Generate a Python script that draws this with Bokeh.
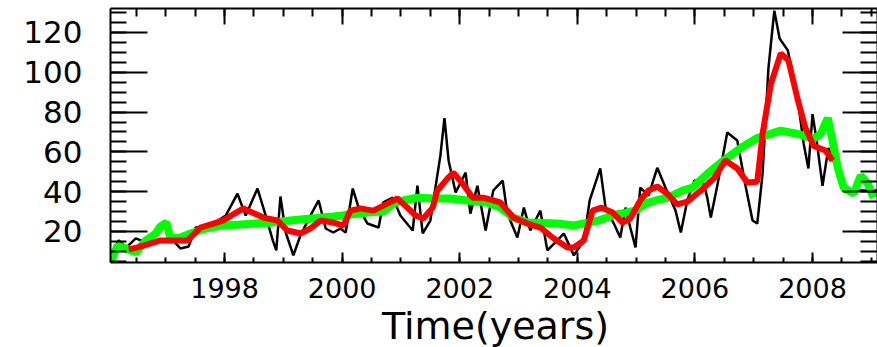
from bokeh.plotting import figure
from bokeh.models import Range1d, LinearAxis, SingleIntervalTicker, CustomJSTickFormatter, Label
from bokeh.embed import file_html
from bokeh.resources import INLINE

# ---- data ----
black_t = [1996.06, 1996.20, 1996.33, 1996.49, 1996.66, 1996.83, 1997.00, 1997.12, 1997.25, 1997.39,
           1997.51, 1997.76, 1998.02, 1998.22, 1998.36, 1998.56, 1998.70, 1998.82, 1998.88, 1998.95,
           1999.04, 1999.17, 1999.29, 1999.46, 1999.60, 1999.72, 1999.85, 1999.97, 2000.06, 2000.18,
           2000.28, 2000.43, 2000.62, 2000.70, 2000.86, 2000.99, 2001.20, 2001.28, 2001.37, 2001.50,
           2001.67, 2001.74, 2001.81, 2001.93, 2002.10, 2002.18, 2002.30, 2002.44, 2002.57, 2002.73,
           2002.81, 2002.98, 2003.09, 2003.20, 2003.37, 2003.49, 2003.66, 2003.77, 2003.94, 2004.11,
           2004.21, 2004.39, 2004.48, 2004.62, 2004.73, 2004.82, 2004.90, 2004.99, 2005.07, 2005.21,
           2005.36, 2005.50, 2005.67, 2005.76, 2005.87, 2005.99, 2006.15, 2006.21, 2006.27, 2006.38,
           2006.55, 2006.72, 2006.86, 2006.98, 2007.06, 2007.15, 2007.25, 2007.35, 2007.44, 2007.58,
           2007.75, 2007.85, 2007.93, 2008.00, 2008.07, 2008.17, 2008.27, 2008.39, 2008.53, 2009.11]
black_v = [8.0, 15.5, 12.0, 16.5, 14.5, 19.5, 23.0, 15.5, 11.5, 12.5,
           22.0, 23.0, 28.0, 39.0, 28.0, 41.6, 28.0, 15.5, 10.5, 37.6,
           19.5, 8.0, 18.0, 28.0, 35.6, 21.5, 19.5, 21.5, 19.5, 41.6,
           32.0, 24.0, 22.0, 34.6, 37.0, 28.0, 20.5, 43.0, 19.0, 25.5,
           58.0, 77.0, 55.7, 39.6, 49.6, 29.0, 43.0, 20.5, 40.6, 45.6,
           29.0, 17.0, 32.0, 20.5, 30.5, 10.5, 15.5, 19.0, 8.0, 15.5,
           35.6, 51.7, 32.0, 24.0, 17.0, 32.0, 22.0, 12.0, 42.0, 38.0,
           52.0, 42.0, 30.5, 19.5, 35.6, 45.6, 44.0, 37.0, 27.0, 43.0,
           69.7, 65.7, 43.0, 25.5, 24.0, 49.0, 102.0, 131.0, 117.0, 111.0,
           86.0, 64.0, 51.7, 79.0, 65.7, 43.0, 62.0, 53.0, 40.6, 40.6]

red_t = [1996.37, 1996.52, 1996.91, 1997.22, 1997.37, 1997.59, 1997.97, 1998.32, 1998.66, 1998.90,
         1999.07, 1999.29, 1999.46, 1999.63, 1999.85, 2000.02, 2000.14, 2000.31, 2000.53, 2000.77,
         2000.94, 2001.11, 2001.25, 2001.38, 2001.54, 2001.62, 2001.79, 2001.89, 2002.05, 2002.22,
         2002.40, 2002.69, 2002.91, 2003.15, 2003.37, 2003.60, 2003.83, 2003.94, 2004.11, 2004.26,
         2004.41, 2004.60, 2004.77, 2004.90, 2005.07, 2005.21, 2005.36, 2005.53, 2005.70, 2005.87,
         2006.10, 2006.32, 2006.52, 2006.72, 2006.89, 2007.06, 2007.15, 2007.29, 2007.46, 2007.59,
         2007.75, 2007.88, 2008.02, 2008.22, 2008.34]
red_v = [11.0, 12.0, 15.5, 15.5, 15.5, 22.0, 25.5, 31.6, 27.0, 25.5,
         20.5, 19.0, 21.5, 25.5, 24.5, 23.0, 30.5, 31.6, 30.5, 34.0,
         36.6, 32.0, 28.0, 26.5, 32.0, 40.6, 46.6, 49.6, 44.0, 37.0,
         37.0, 34.6, 27.0, 24.0, 22.0, 16.5, 12.0, 12.0, 15.5, 30.5,
         32.0, 29.5, 24.5, 26.5, 35.6, 40.6, 42.6, 39.0, 33.6, 35.0,
         40.6, 46.6, 55.7, 51.7, 44.6, 45.0, 69.0, 94.0, 109.5, 106.0,
         86.0, 72.0, 63.0, 60.7, 55.7]

green_t = [1996.06, 1996.18, 1996.32, 1996.49, 1996.66, 1996.83, 1996.91, 1997.01, 1997.08, 1997.25,
           1997.42, 1997.68, 1997.93, 1998.27, 1998.78, 1999.29, 1999.85, 2000.43, 2000.70, 2000.86,
           2001.04, 2001.28, 2001.55, 2001.84, 2002.13, 2002.47, 2002.69, 2002.91, 2003.15, 2003.66,
           2003.94, 2004.36, 2004.65, 2004.99, 2005.16, 2005.33, 2005.55, 2005.79, 2005.96, 2006.21,
           2006.49, 2006.78, 2007.06, 2007.46, 2007.75, 2008.02, 2008.14, 2008.26, 2008.34, 2008.43,
           2008.53, 2008.70, 2008.82, 2008.94, 2009.04]
green_v = [4.4, 13.0, 11.5, 9.5, 15.5, 19.0, 22.5, 24.5, 16.5, 17.0,
           19.0, 21.5, 23.0, 23.5, 24.5, 26.0, 27.5, 29.5, 30.0, 34.0,
           35.6, 37.0, 36.6, 36.6, 35.6, 34.6, 32.0, 27.0, 24.5, 24.0,
           23.0, 25.5, 28.5, 30.5, 34.0, 35.6, 37.0, 40.6, 42.0, 49.0,
           55.7, 62.0, 67.0, 70.7, 69.0, 66.7, 69.0, 77.0, 65.7, 52.0,
           42.0, 39.0, 48.0, 44.0, 37.0]

x_title = "Time(years)"
FONT = "DejaVu Sans"

p = figure(width=877, height=347, output_backend="svg", toolbar_location=None,
           x_range=Range1d(1996.06, 2009.105), y_range=Range1d(4.42, 132.06),
           x_axis_location=None, y_axis_location=None,
           min_border_left=110, min_border_right=0, min_border_top=8, min_border_bottom=85)
p.grid.visible = False
p.outline_line_color = None
p.background_fill_color = "white"
p.border_fill_color = "white"

xt = SingleIntervalTicker(interval=2, num_minor_ticks=4)
yt = SingleIntervalTicker(interval=20, num_minor_ticks=4)
blank = CustomJSTickFormatter(code="return ''")

def style(ax, tin, min_in):
    ax.axis_line_width = 2
    ax.axis_line_color = "black"
    ax.major_tick_in = tin
    ax.major_tick_out = 0
    ax.minor_tick_in = min_in
    ax.minor_tick_out = 0
    ax.major_tick_line_width = 2
    ax.minor_tick_line_width = 2

bottom = LinearAxis(ticker=xt)
style(bottom, 10, 5)
bottom.major_label_text_font = FONT
bottom.major_label_text_font_size = "27px"
bottom.major_label_text_color = "black"
bottom.major_label_standoff = 15
p.add_layout(bottom, "below")

left = LinearAxis(ticker=yt)
style(left, 37, 16)
left.major_label_text_font = FONT
left.major_label_text_font_size = "31px"
left.major_label_text_color = "black"
left.major_label_standoff = 28
p.add_layout(left, "left")

top = LinearAxis(ticker=xt, formatter=blank)
style(top, 16, 8)
top.major_label_standoff = 0
p.add_layout(top, "above")

right = LinearAxis(ticker=yt, formatter=blank)
style(right, 35, 17)
right.major_label_standoff = 0
p.add_layout(right, "right")

p.line(black_t, black_v, line_color="black", line_width=2.5)
p.line(green_t, green_v, line_color="#00ff00", line_width=8)
p.line(red_t, red_v, line_color="#ff0000", line_width=6)

lab = Label(x=385, y=19, x_units="screen", y_units="screen", text=x_title,
            text_align="center", text_baseline="alphabetic",
            text_font=FONT, text_font_size="38px", text_color="black")
p.add_layout(lab, "below")

open("out.html", "w").write(file_html(p, INLINE))
